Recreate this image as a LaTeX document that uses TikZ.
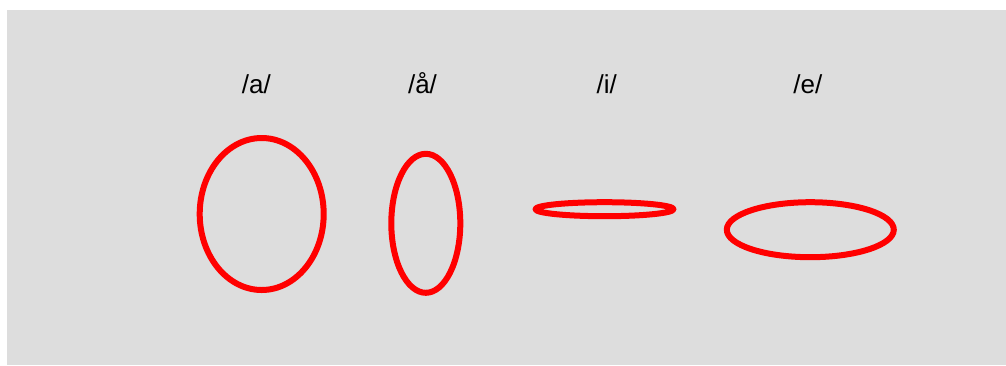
\documentclass[tikz,border=0pt]{standalone}
\usepackage{fontspec}
\setsansfont{Liberation Sans}
\usepackage{tikz}
\usetikzlibrary{shapes.geometric}
\usepackage{xcolor}
\definecolor{panelgray}{HTML}{DDDDDD}
\definecolor{lipred}{HTML}{FF0000}

\begin{document}
\begin{tikzpicture}[x=1pt, y=-1pt,
  lips/.style={draw=lipred, ellipse, line width=6pt, line join=round, inner sep=0pt},
  vowel/.style={anchor=base, font=\fontsize{26}{30}\selectfont\sffamily}]
  % Panel
  \useasboundingbox (0, 0) rectangle (1006, 365);
  \fill[panelgray] (7, 10) rectangle (1006, 365);

  % Lip shapes
  \node[lips, minimum width=124pt, minimum height=152pt] (a) at (261.7, 214) {};
  \node[lips, minimum width=69pt, minimum height=139pt] (aa) at (425.8, 223.3) {};
  \node[lips, minimum width=138pt, minimum height=14pt] (i) at (604.5, 209.2) {};
  \node[lips, minimum width=167pt, minimum height=55pt] (e) at (810.3, 229.7) {};

  % Vowel labels
  \node[vowel] (a-label) at (256.3, 93.3) {/a/};
  \node[vowel] (aa-label) at (422.5, 93.3) {/å/};
  \node[vowel] (i-label) at (606.8, 93.3) {/i/};
  \node[vowel] (e-label) at (807.8, 93.3) {/e/};
\end{tikzpicture}
\end{document}
